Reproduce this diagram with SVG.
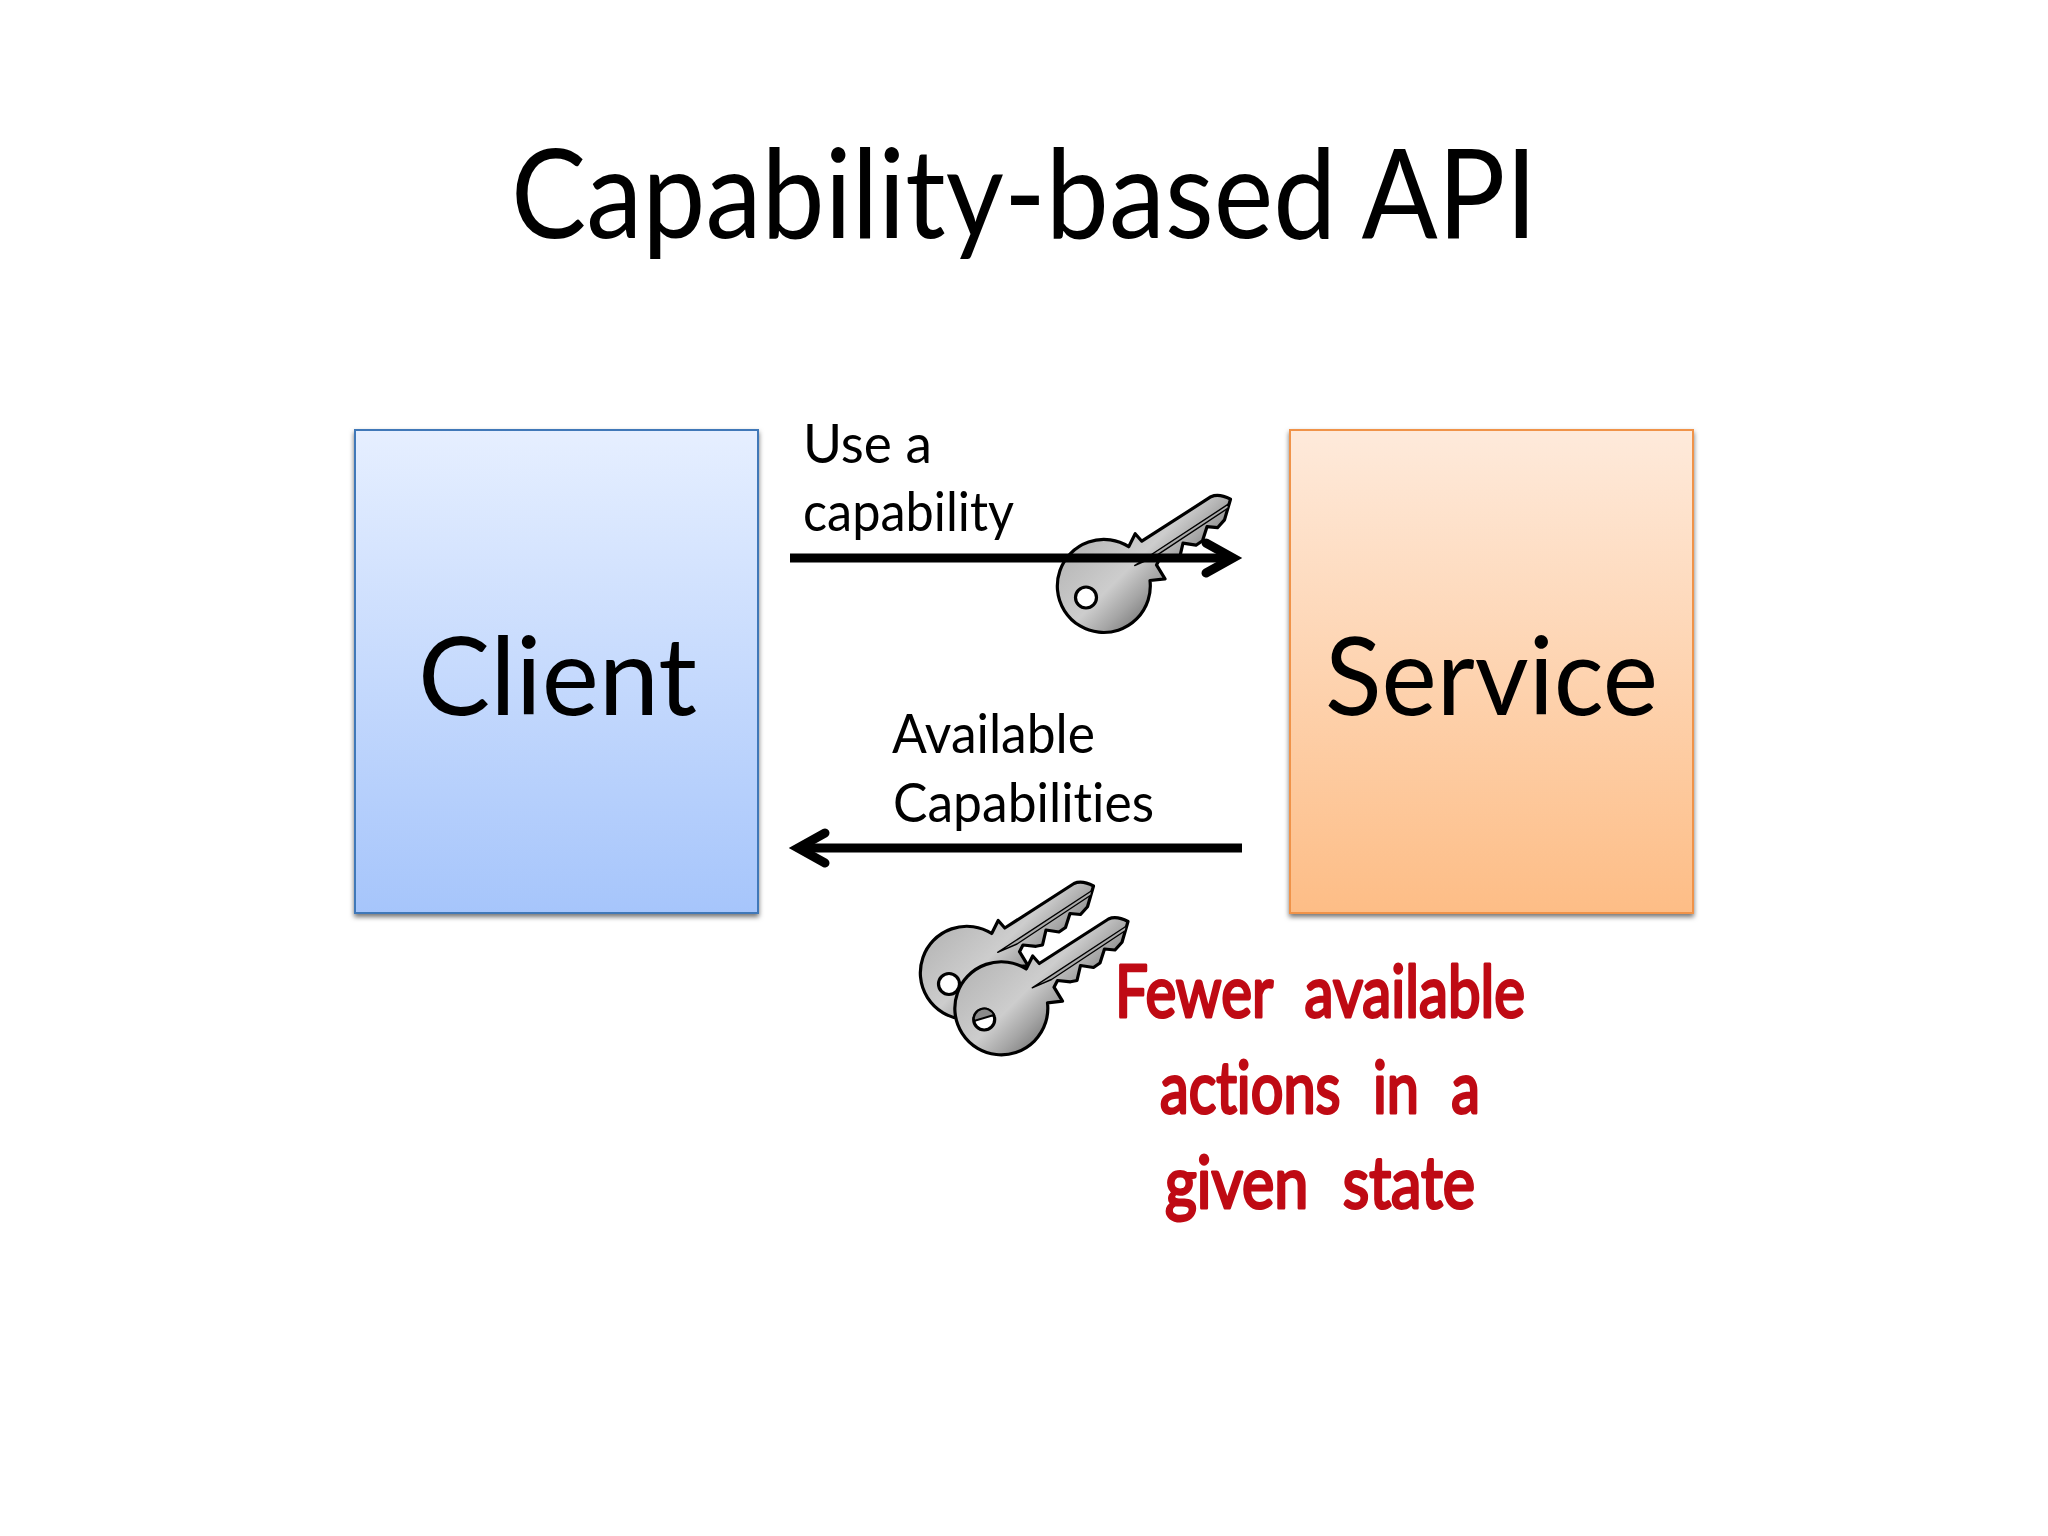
<svg xmlns="http://www.w3.org/2000/svg" width="2048" height="1536" viewBox="0 0 2048 1536">
<style>
.t{font-family:"Lato","Noto Sans",sans-serif;fill:#000;font-variant-ligatures:none}
.lab{font-size:54px}
.big{font-size:108px}
.hand{font-family:"Lato","Liberation Sans",sans-serif;font-size:72px;fill:#bf0a14;stroke:#bf0a14;stroke-width:3px;stroke-linejoin:round;font-variant-ligatures:none;word-spacing:22px}
.box{stroke-width:2}
.conn{stroke:#000;stroke-width:9;fill:none}
.k{stroke:#000;stroke-width:3.2;stroke-linejoin:round}
</style>
<defs>
<linearGradient id="gc" x1="0" y1="0" x2="0" y2="1"><stop offset="0" stop-color="#e6efff"/><stop offset="1" stop-color="#a6c5fb"/></linearGradient>
<linearGradient id="gs" x1="0" y1="0" x2="0" y2="1"><stop offset="0" stop-color="#feeadb"/><stop offset="1" stop-color="#fdbd86"/></linearGradient>
<linearGradient id="gk" gradientUnits="userSpaceOnUse" x1="-30" y1="-30" x2="35" y2="35"><stop offset="0" stop-color="#bbb"/><stop offset="0.5" stop-color="#cdcdcd"/><stop offset="0.78" stop-color="#a5a5a5"/><stop offset="1" stop-color="#808080"/></linearGradient>
<filter id="sh" x="-5%" y="-5%" width="110%" height="110%"><feDropShadow dx="0" dy="3" stdDeviation="2.5" flood-color="#000" flood-opacity="0.55"/></filter>
<marker id="ah" markerUnits="userSpaceOnUse" markerWidth="60" markerHeight="60" refX="40" refY="30" orient="auto" overflow="visible"><path d="M13,15 L40,30 L13,45" fill="none" stroke="#000" stroke-width="9" stroke-linecap="round" stroke-linejoin="miter"/></marker>
<g id="key">
<path class="k" fill="url(#gk)" d="M126.5,-89 L120.5,-68.3 L113.5,-60.5 L103,-61.5 L98.5,-47.5 L92,-43 L79,-45 L75.5,-30 L69,-28.7 L56,-30 L52.5,-23.3 L61,-9.3 L46,-7.7 A46.5,46.5 0 1 1 24.7,-41.5 L31.2,-54.5 L37.8,-47 L107,-91.5 Q115,-95 126.5,-89 Z"/>
<path d="M30.7,-22.7 L125,-84.5 L124,-80 L50,-31 Z" fill="#aaa" stroke="#000" stroke-width="1.4" stroke-linejoin="round"/>
</g>
</defs>
<rect width="2048" height="1536" fill="#fff"/>
<g id="title"><text class="t" x="511" y="238" font-size="125" textLength="1026" lengthAdjust="spacingAndGlyphs">Capability-based API</text></g>
<g id="client">
<rect class="box" x="355" y="430" width="403" height="483" fill="url(#gc)" stroke="#3f78b8" filter="url(#sh)"/>
<text class="t big" x="418" y="715" textLength="279" lengthAdjust="spacingAndGlyphs">Client</text>
</g>
<g id="service">
<rect class="box" x="1290" y="430" width="403" height="483" fill="url(#gs)" stroke="#f0934a" filter="url(#sh)"/>
<text class="t big" x="1325" y="715" textLength="333" lengthAdjust="spacingAndGlyphs">Service</text>
</g>
<g id="key-use"><use href="#key" x="1104" y="588.2"/><circle class="k" cx="1086" cy="597.5" r="10.5" fill="#fff"/></g>
<g id="keys-available">
<use href="#key" x="967" y="975"/><circle class="k" cx="949" cy="984" r="10.5" fill="#fff"/>
<use href="#key" x="1001.5" y="1010.5"/>
<circle class="k" cx="984.2" cy="1019.5" r="10.5" fill="#fff"/>
<path d="M974,1021 A10.5,10.5 0 0 1 994,1015 Z" fill="#8a8a8a" stroke="#000" stroke-width="2"/>
</g>
<g id="connectors">
<line class="conn" x1="790" y1="558" x2="1233" y2="558" marker-end="url(#ah)"/>
<line class="conn" x1="1242" y1="848" x2="798" y2="848" marker-end="url(#ah)"/>
</g>
<g id="labels">
<text class="t lab" x="803" y="463" textLength="129" lengthAdjust="spacingAndGlyphs">Use a</text>
<text class="t lab" x="803" y="531" textLength="211" lengthAdjust="spacingAndGlyphs">capability</text>
<text class="t lab" x="892" y="753" textLength="203" lengthAdjust="spacingAndGlyphs">Available</text>
<text class="t lab" x="893" y="822" textLength="261" lengthAdjust="spacingAndGlyphs">Capabilities</text>
</g>
<g id="note">
<text class="hand" x="1115" y="1017" textLength="410" lengthAdjust="spacingAndGlyphs">Fewer available</text>
<text class="hand" x="1160" y="1113" textLength="320" lengthAdjust="spacingAndGlyphs">actions in a</text>
<text class="hand" x="1165" y="1208" textLength="310" lengthAdjust="spacingAndGlyphs">given state</text>
</g>
</svg>
